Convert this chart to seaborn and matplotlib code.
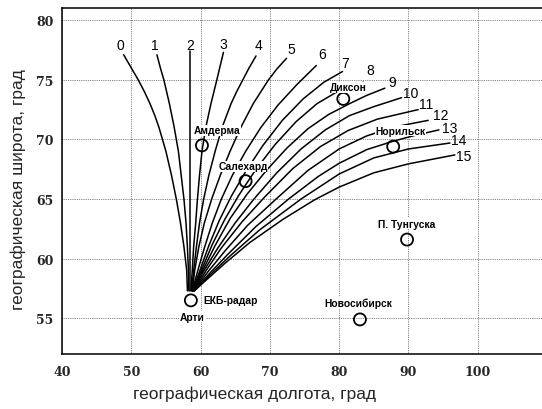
import matplotlib
matplotlib.use("Agg")
import matplotlib.pyplot as plt
import seaborn as sns

# Isolines: longitude / latitude points, from the common origin up to the labelled end
lon_00 = [58.1, 58.0, 57.6, 57.1, 56.5, 55.8, 55.0, 54.0, 53.4, 52.7, 51.9, 51.0, 50.0, 48.9]
lat_00 = [57.3, 59.0, 61.0, 63.0, 65.0, 67.0, 69.0, 71.0, 72.0, 73.0, 74.0, 75.0, 76.0, 77.1]
lon_01 = [58.3, 58.25, 58.1, 57.9, 57.6, 57.2, 56.8, 56.2, 55.5, 55.1, 54.7, 54.2, 53.7]
lat_01 = [57.3, 59.0, 61.0, 63.0, 65.0, 67.0, 69.0, 71.0, 73.0, 74.0, 75.0, 76.0, 77.1]
lon_02 = [58.45, 58.45, 58.45]
lat_02 = [57.3, 67.0, 77.4]
lon_03 = [58.6, 58.8, 59.0, 59.3, 59.55, 59.85, 60.2, 60.75, 61.5, 62.35, 62.8, 63.3]
lat_03 = [57.3, 59.0, 61.0, 63.0, 65.0, 67.0, 69.0, 71.0, 73.0, 75.0, 76.1, 77.3]
lon_04 = [58.7, 59.0, 59.4, 59.85, 60.45, 61.2, 62.1, 63.1, 64.4, 65.2, 66.1, 67.0, 68.0]
lat_04 = [57.3, 59.0, 61.0, 63.0, 65.0, 67.0, 69.0, 71.0, 73.0, 74.0, 75.0, 76.0, 77.0]
lon_05 = [58.8, 59.15, 59.75, 60.55, 61.6, 62.85, 64.25, 65.8, 67.6, 69.8, 71.0, 72.4]
lat_05 = [57.3, 59.0, 61.0, 63.0, 65.0, 67.0, 69.0, 71.0, 73.0, 75.0, 75.9, 76.8]
lon_06 = [58.8, 59.6, 60.6, 61.7, 63.0, 64.6, 66.5, 68.7, 71.2, 73.9, 76.7]
lat_06 = [57.3, 59.0, 61.0, 63.0, 65.0, 67.0, 69.0, 71.0, 72.9, 74.6, 76.2]
lon_07 = [58.85, 59.9, 61.2, 62.7, 64.4, 66.5, 69.0, 71.8, 74.8, 77.8, 80.5]
lat_07 = [57.3, 59.0, 61.1, 63.2, 65.2, 67.3, 69.5, 71.6, 73.4, 74.8, 75.7]
lon_08 = [58.9, 60.1, 61.7, 63.5, 65.5, 68.0, 70.8, 73.8, 76.8, 80.0, 83.5]
lat_08 = [57.3, 59.0, 61.2, 63.3, 65.3, 67.5, 69.6, 71.5, 73.0, 74.1, 74.8]
lon_09 = [58.9, 60.3, 62.1, 64.3, 66.7, 69.5, 72.5, 75.5, 78.5, 81.5, 84.0, 86.6]
lat_09 = [57.3, 59.0, 61.1, 63.4, 65.4, 67.4, 69.3, 70.9, 72.1, 73.0, 73.7, 74.3]
lon_10 = [58.95, 60.5, 62.5, 65.0, 67.7, 71.0, 74.5, 78.0, 81.5, 85.0, 89.0]
lat_10 = [57.3, 59.0, 60.9, 63.0, 65.0, 67.2, 69.2, 70.8, 72.0, 72.75, 73.5]
lon_11 = [59.0, 60.8, 63.0, 66.0, 69.3, 73.3, 77.3, 81.3, 85.5, 91.4]
lat_11 = [57.3, 59.0, 60.9, 63.1, 65.2, 67.55, 69.4, 70.75, 71.7, 72.5]
lon_12 = [59.0, 61.0, 63.6, 66.8, 70.9, 75.5, 80.0, 84.0, 88.0, 92.85]
lat_12 = [57.3, 58.85, 60.7, 62.8, 65.0, 67.4, 69.2, 70.3, 71.05, 71.6]
lon_13 = [59.05, 61.2, 64.0, 68.0, 72.7, 77.0, 80.0, 84.0, 87.8, 91.0, 94.4]
lat_13 = [57.3, 58.7, 60.4, 62.7, 65.0, 66.9, 68.0, 69.15, 69.85, 70.35, 70.8]
lon_14 = [59.1, 61.3, 64.3, 68.5, 74.5, 80.0, 85.0, 90.0, 96.0]
lat_14 = [57.3, 58.6, 60.25, 62.4, 65.0, 67.1, 68.45, 69.2, 69.7]
lon_15 = [59.1, 61.0, 63.5, 67.1, 71.9, 76.5, 80.0, 85.0, 90.0, 96.7]
lat_15 = [57.3, 58.3, 59.6, 61.35, 63.3, 64.95, 66.0, 67.2, 67.95, 68.7]

curve_lons = [lon_00, lon_01, lon_02, lon_03, lon_04, lon_05, lon_06, lon_07,
              lon_08, lon_09, lon_10, lon_11, lon_12, lon_13, lon_14, lon_15]
curve_lats = [lat_00, lat_01, lat_02, lat_03, lat_04, lat_05, lat_06, lat_07,
              lat_08, lat_09, lat_10, lat_11, lat_12, lat_13, lat_14, lat_15]
curve_names = [str(i) for i in range(16)]

# Observation sites
site_names = ["Амдерма", "Салехард", "Диксон", "Норильск",
              "П. Тунгуска", "Новосибирск", "Арти"]
site_lon = [60.2, 66.5, 80.6, 87.8, 89.8, 83.0, 58.6]
site_lat = [69.5, 66.5, 73.4, 69.4, 61.6, 54.9, 56.5]

x_ticks = [40, 50, 60, 70, 80, 90, 100]
y_ticks = [55, 60, 65, 70, 75, 80]

# text placement (offset in points from the end of each curve / from each site)
curve_label_offsets = [(-2.7, 7.4), (-1.4, 7.4), (0, 4.8), (0, 5.7), (1.7, 7.6),
                       (3.2, 6.4), (3.9, 8.0), (1.7, 6.3), (4.7, 8.5), (5.5, 4.3),
                       (6.6, 3.6), (5.5, 4.0), (8.8, 4.1), (7.9, 1.6), (6.3, 1.9),
                       (6.4, -0.8)]
site_label_layout = {
    "Амдерма": ((11.2, 10.8), "center", "center"),
    "Салехард": ((-1.7, 10.8), "center", "center"),
    "Диксон": ((3.6, 8.5), "center", "center"),
    "Норильск": ((5.4, 11.4), "center", "center"),
    "П. Тунгуска": ((0, 11.4), "center", "center"),
    "Новосибирск": ((-1.3, 11.9), "center", "center"),
    "Арти": ((1.3, -11.7), "center", "center"),
}

sns.set_style("white")
plt.rcParams["font.family"] = ["Liberation Sans", "DejaVu Sans"]

fig = plt.figure(figsize=(5.42, 4.10), dpi=100)
ax = fig.add_axes([62 / 542, 1 - 355 / 410, 485 / 542, 345.7 / 410])

for lons, lats in zip(curve_lons, curve_lats):
    sns.lineplot(x=lons, y=lats, sort=False, estimator=None, color="black",
                 linewidth=1.1, ax=ax)

for name, lons, lats, off in zip(curve_names, curve_lons, curve_lats,
                                 curve_label_offsets):
    ax.annotate(name, (lons[-1], lats[-1]), xytext=off, textcoords="offset points",
                ha="center", va="center", fontsize=10, color="black")

sns.scatterplot(x=site_lon, y=site_lat, s=75, marker="o", facecolor="none",
                edgecolor="black", linewidth=1.3, ax=ax, zorder=5)

label_font = dict(fontsize=7.4, fontweight="bold", color="black")
box = dict(facecolor="white", edgecolor="none", pad=0.3)
for name, x, y in zip(site_names, site_lon, site_lat):
    off, ha, va = site_label_layout[name]
    ax.annotate(name, (x, y), xytext=off, textcoords="offset points",
                ha=ha, va=va, bbox=box, zorder=6, **label_font)
# the radar shares the Арти site
ax.annotate("ЕКБ-радар", (site_lon[-1], site_lat[-1]), xytext=(9.1, 0),
            textcoords="offset points", ha="left", va="center", bbox=box,
            zorder=6, **label_font)

ax.set_xlim(40, 110)
ax.set_ylim(52, 81)
ax.set_xticks(x_ticks)
ax.set_yticks(y_ticks)
ax.set_xticks([45, 55, 65, 75, 85, 95, 105], minor=True)
ax.grid(True, which="major", color="0.35", linestyle=(0, (1, 1.2)), linewidth=0.6)
ax.set_axisbelow(True)

tick_font = dict(family="DejaVu Serif", weight="bold", size=9)
ax.set_xticklabels([str(t) for t in x_ticks], fontdict=tick_font)
ax.set_yticklabels([str(t) for t in y_ticks], fontdict=tick_font)
ax.tick_params(which="major", direction="in", length=3, width=0.8, color="black",
               pad=6)
ax.tick_params(axis="x", which="major", pad=8)
ax.tick_params(which="minor", direction="in", length=3, width=0.8, color="black")

for side in ["left", "bottom", "top"]:
    ax.spines[side].set_color("black")
    ax.spines[side].set_linewidth(1.1)
ax.spines["right"].set_visible(False)

ax.set_xlabel("географическая долгота, град", fontsize=12.5)
ax.set_ylabel("географическая широта, град", fontsize=12.5)
ax.xaxis.set_label_coords(0.396, -0.113)
ax.xaxis.label.set_va("center")
ax.yaxis.set_label_coords(-0.0907, 0.477)
ax.yaxis.label.set_va("center")

fig.savefig("out.png", dpi=100)
